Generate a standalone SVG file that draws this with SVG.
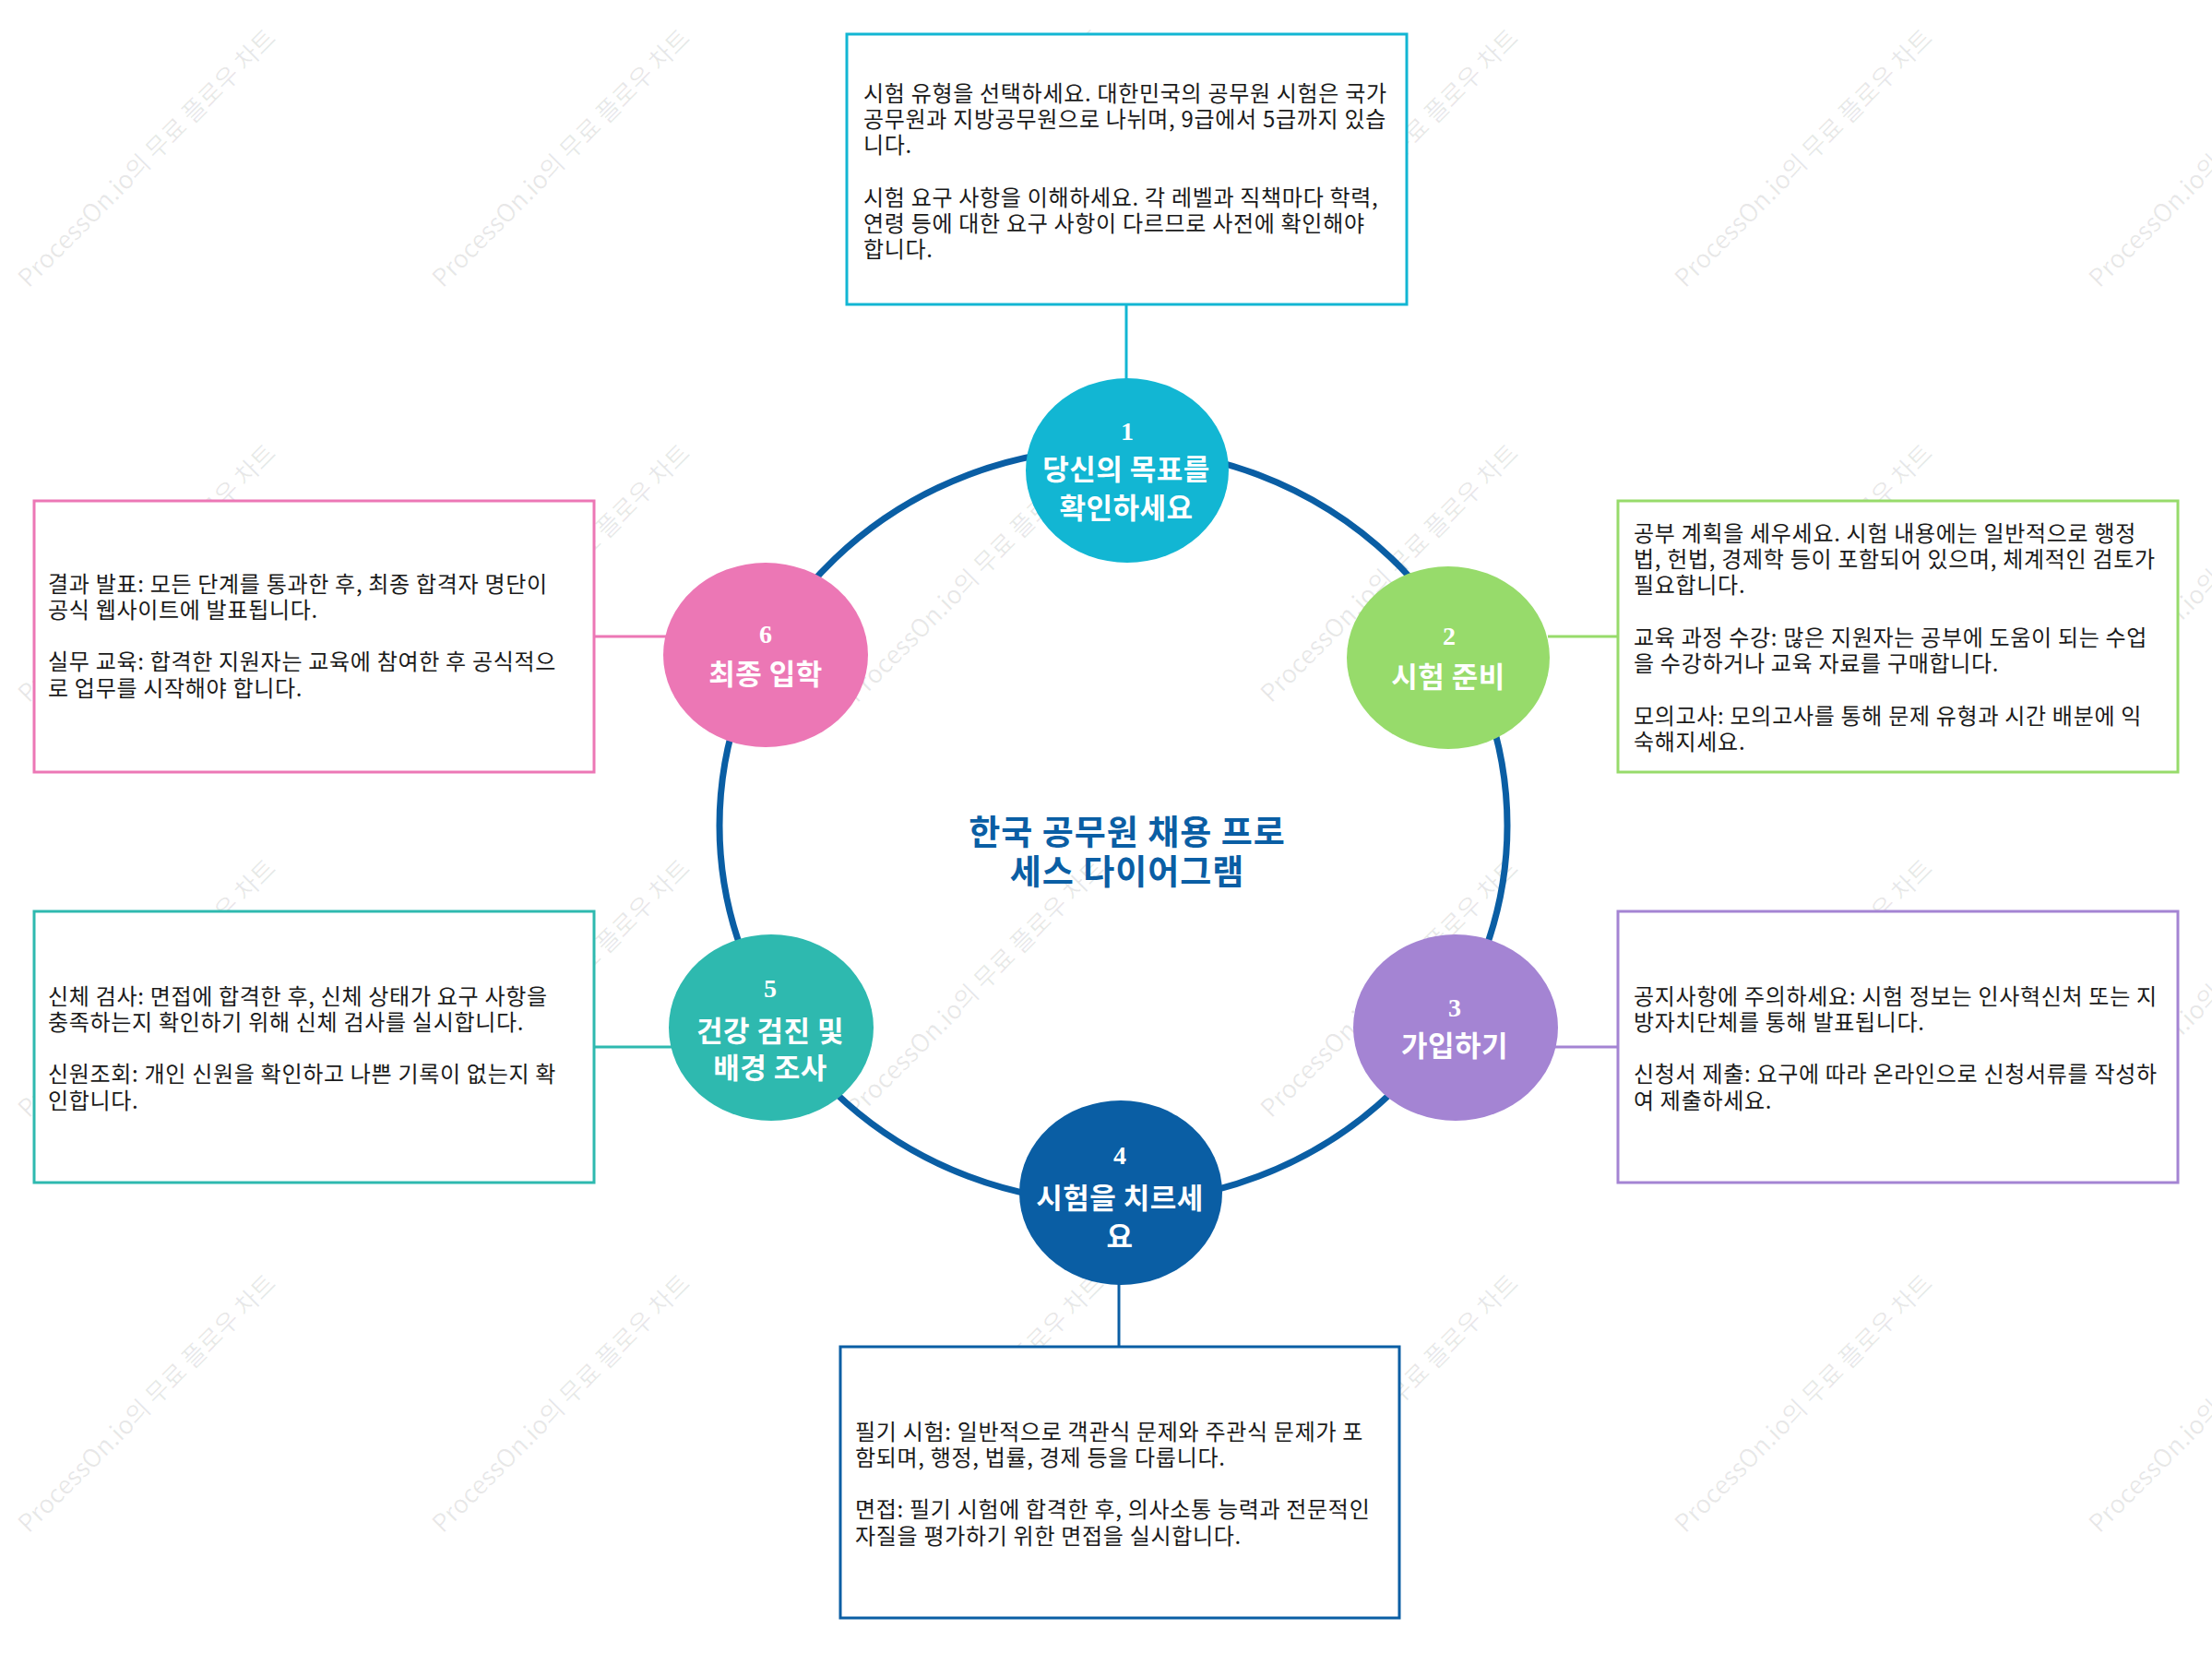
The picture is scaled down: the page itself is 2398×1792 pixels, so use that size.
<svg xmlns="http://www.w3.org/2000/svg" width="2398" height="1792" viewBox="0 0 2398 1792">
<style>
.wm{font-family:"Noto Sans CJK KR","Noto Sans",sans-serif;font-size:27px;fill:#000;fill-opacity:0.09}
.box{fill:#fff;stroke-width:3}
.body{font-family:"Noto Sans CJK KR","Noto Sans",sans-serif;font-size:24px;letter-spacing:0.7px;fill:#1a1a1a}
.num{font-family:"Liberation Serif",serif;font-weight:bold;font-size:28px;fill:#fff;text-anchor:middle}
.lbl{font-family:"Noto Sans CJK KR","Noto Sans",sans-serif;font-weight:bold;font-size:31px;letter-spacing:0.5px;fill:#fff;text-anchor:middle}
.title{font-family:"Noto Sans CJK KR","Noto Sans",sans-serif;font-weight:bold;font-size:37px;letter-spacing:1px;fill:#0A5EA4;text-anchor:middle}
.conn{fill:none;stroke-width:3}
</style>
<rect width="2398" height="1792" fill="#fff"/>
<g id="watermarks">
<text class="wm" transform="translate(31,313) rotate(-45)">ProcessOn.io의 무료 플로우 차트</text>
<text class="wm" transform="translate(480,313) rotate(-45)">ProcessOn.io의 무료 플로우 차트</text>
<text class="wm" transform="translate(929,313) rotate(-45)">ProcessOn.io의 무료 플로우 차트</text>
<text class="wm" transform="translate(1378,313) rotate(-45)">ProcessOn.io의 무료 플로우 차트</text>
<text class="wm" transform="translate(1827,313) rotate(-45)">ProcessOn.io의 무료 플로우 차트</text>
<text class="wm" transform="translate(2276,313) rotate(-45)">ProcessOn.io의 무료 플로우 차트</text>
<text class="wm" transform="translate(31,763) rotate(-45)">ProcessOn.io의 무료 플로우 차트</text>
<text class="wm" transform="translate(480,763) rotate(-45)">ProcessOn.io의 무료 플로우 차트</text>
<text class="wm" transform="translate(929,763) rotate(-45)">ProcessOn.io의 무료 플로우 차트</text>
<text class="wm" transform="translate(1378,763) rotate(-45)">ProcessOn.io의 무료 플로우 차트</text>
<text class="wm" transform="translate(1827,763) rotate(-45)">ProcessOn.io의 무료 플로우 차트</text>
<text class="wm" transform="translate(2276,763) rotate(-45)">ProcessOn.io의 무료 플로우 차트</text>
<text class="wm" transform="translate(31,1213) rotate(-45)">ProcessOn.io의 무료 플로우 차트</text>
<text class="wm" transform="translate(480,1213) rotate(-45)">ProcessOn.io의 무료 플로우 차트</text>
<text class="wm" transform="translate(929,1213) rotate(-45)">ProcessOn.io의 무료 플로우 차트</text>
<text class="wm" transform="translate(1378,1213) rotate(-45)">ProcessOn.io의 무료 플로우 차트</text>
<text class="wm" transform="translate(1827,1213) rotate(-45)">ProcessOn.io의 무료 플로우 차트</text>
<text class="wm" transform="translate(2276,1213) rotate(-45)">ProcessOn.io의 무료 플로우 차트</text>
<text class="wm" transform="translate(31,1663) rotate(-45)">ProcessOn.io의 무료 플로우 차트</text>
<text class="wm" transform="translate(480,1663) rotate(-45)">ProcessOn.io의 무료 플로우 차트</text>
<text class="wm" transform="translate(929,1663) rotate(-45)">ProcessOn.io의 무료 플로우 차트</text>
<text class="wm" transform="translate(1378,1663) rotate(-45)">ProcessOn.io의 무료 플로우 차트</text>
<text class="wm" transform="translate(1827,1663) rotate(-45)">ProcessOn.io의 무료 플로우 차트</text>
<text class="wm" transform="translate(2276,1663) rotate(-45)">ProcessOn.io의 무료 플로우 차트</text>
</g>
<g id="connectors">
<ellipse cx="1207" cy="895" rx="427" ry="409" fill="none" stroke="#0A5EA4" stroke-width="7"/>
<line class="conn" x1="1221" y1="330" x2="1221" y2="412" stroke="#12B6D3"/>
<line class="conn" x1="1678" y1="690" x2="1754" y2="690" stroke="#97DB6B"/>
<line class="conn" x1="1686" y1="1135" x2="1754" y2="1135" stroke="#A484D3"/>
<line class="conn" x1="1213" y1="1390" x2="1213" y2="1460" stroke="#0A5EA4"/>
<line class="conn" x1="644" y1="1135" x2="729" y2="1135" stroke="#2EB9AF"/>
<line class="conn" x1="644" y1="690" x2="722" y2="690" stroke="#EC77B5"/>
</g>
<g id="box1">
<rect class="box" x="918" y="37" width="607" height="293" stroke="#12B6D3"/>
<text class="body"><tspan x="936" y="109.5">시험 유형을 선택하세요. 대한민국의 공무원 시험은 국가</tspan><tspan x="936" y="137.8">공무원과 지방공무원으로 나뉘며, 9급에서 5급까지 있습</tspan><tspan x="936" y="166.1">니다.</tspan><tspan x="936" y="222.7">시험 요구 사항을 이해하세요. 각 레벨과 직책마다 학력,</tspan><tspan x="936" y="251">연령 등에 대한 요구 사항이 다르므로 사전에 확인해야</tspan><tspan x="936" y="279.3">합니다.</tspan></text>
</g>
<g id="box2">
<rect class="box" x="1754" y="543" width="607" height="294" stroke="#97DB6B"/>
<text class="body"><tspan x="1771" y="586.5">공부 계획을 세우세요. 시험 내용에는 일반적으로 행정</tspan><tspan x="1771" y="614.8">법, 헌법, 경제학 등이 포함되어 있으며, 체계적인 검토가</tspan><tspan x="1771" y="643.1">필요합니다.</tspan><tspan x="1771" y="699.7">교육 과정 수강: 많은 지원자는 공부에 도움이 되는 수업</tspan><tspan x="1771" y="728">을 수강하거나 교육 자료를 구매합니다.</tspan><tspan x="1771" y="784.6">모의고사: 모의고사를 통해 문제 유형과 시간 배분에 익</tspan><tspan x="1771" y="812.9">숙해지세요.</tspan></text>
</g>
<g id="box3">
<rect class="box" x="1754" y="988" width="607" height="294" stroke="#A484D3"/>
<text class="body"><tspan x="1771" y="1088.5">공지사항에 주의하세요: 시험 정보는 인사혁신처 또는 지</tspan><tspan x="1771" y="1116.8">방자치단체를 통해 발표됩니다.</tspan><tspan x="1771" y="1173.4">신청서 제출: 요구에 따라 온라인으로 신청서류를 작성하</tspan><tspan x="1771" y="1201.7">여 제출하세요.</tspan></text>
</g>
<g id="box4">
<rect class="box" x="911" y="1460" width="606" height="294" stroke="#0A5EA4"/>
<text class="body"><tspan x="927" y="1560.5">필기 시험: 일반적으로 객관식 문제와 주관식 문제가 포</tspan><tspan x="927" y="1588.8">함되며, 행정, 법률, 경제 등을 다룹니다.</tspan><tspan x="927" y="1645.4">면접: 필기 시험에 합격한 후, 의사소통 능력과 전문적인</tspan><tspan x="927" y="1673.7">자질을 평가하기 위한 면접을 실시합니다.</tspan></text>
</g>
<g id="box5">
<rect class="box" x="37" y="988" width="607" height="294" stroke="#2EB9AF"/>
<text class="body"><tspan x="52" y="1088.5">신체 검사: 면접에 합격한 후, 신체 상태가 요구 사항을</tspan><tspan x="52" y="1116.8">충족하는지 확인하기 위해 신체 검사를 실시합니다.</tspan><tspan x="52" y="1173.4">신원조회: 개인 신원을 확인하고 나쁜 기록이 없는지 확</tspan><tspan x="52" y="1201.7">인합니다.</tspan></text>
</g>
<g id="box6">
<rect class="box" x="37" y="543" width="607" height="294" stroke="#EC77B5"/>
<text class="body"><tspan x="52" y="641.5">결과 발표: 모든 단계를 통과한 후, 최종 합격자 명단이</tspan><tspan x="52" y="669.8">공식 웹사이트에 발표됩니다.</tspan><tspan x="52" y="726.4">실무 교육: 합격한 지원자는 교육에 참여한 후 공식적으</tspan><tspan x="52" y="754.7">로 업무를 시작해야 합니다.</tspan></text>
</g>
<g id="node1">
<ellipse cx="1222" cy="510" rx="110" ry="100" fill="#12B6D3"/>
<text class="num" x="1222" y="477">1</text>
<text class="lbl" x="1221" y="520">당신의 목표를</text>
<text class="lbl" x="1221" y="562">확인하세요</text>
</g>
<g id="node2">
<ellipse cx="1570" cy="713" rx="110" ry="99" fill="#97DB6B"/>
<text class="num" x="1571" y="699">2</text>
<text class="lbl" x="1570" y="745">시험 준비</text>
</g>
<g id="node3">
<ellipse cx="1578" cy="1114" rx="111" ry="101" fill="#A484D3"/>
<text class="num" x="1577" y="1102">3</text>
<text class="lbl" x="1577" y="1145">가입하기</text>
</g>
<g id="node4">
<ellipse cx="1215" cy="1293" rx="110" ry="100" fill="#0A5EA4"/>
<text class="num" x="1214" y="1262">4</text>
<text class="lbl" x="1214" y="1310">시험을 치르세</text>
<text class="lbl" x="1214" y="1352">요</text>
</g>
<g id="node5">
<ellipse cx="836" cy="1114" rx="111" ry="101" fill="#2EB9AF"/>
<text class="num" x="835" y="1081">5</text>
<text class="lbl" x="835" y="1129">건강 검진 및</text>
<text class="lbl" x="835" y="1169">배경 조사</text>
</g>
<g id="node6">
<ellipse cx="830" cy="710" rx="111" ry="100" fill="#EC77B5"/>
<text class="num" x="830" y="697">6</text>
<text class="lbl" x="830" y="742">최종 입학</text>
</g>
<g id="title">
<text class="title" x="1222" y="916">한국 공무원 채용 프로</text>
<text class="title" x="1222" y="959">세스 다이어그램</text>
</g>
</svg>
